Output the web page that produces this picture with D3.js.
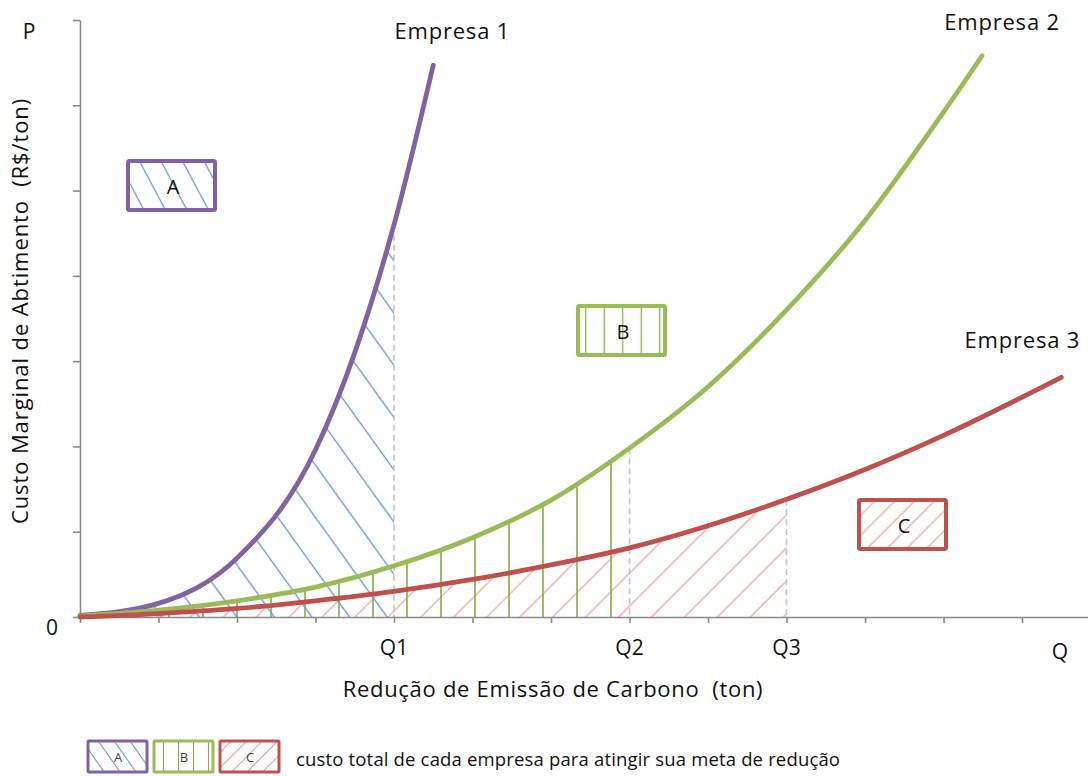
<!DOCTYPE html>
<html>
<head>
<meta charset="utf-8">
<script src="https://cdn.jsdelivr.net/npm/d3@7"></script>
<style>
  html, body { margin: 0; padding: 0; background: #fff; }
  text { font-family: "Open Sans", "Noto Sans", sans-serif; fill: #111; }
</style>
</head>
<body>
<svg id="chart" width="1088" height="776"></svg>
<script>
// curve values (x in tick units, y in tick units)
const empresa1X = [0, 1, 2, 3, 3.5, 4, 4.5];
const empresa1Y = [0.02, 0.16, 0.69, 1.96, 3.1, 4.6, 6.47];
const empresa2X = [0, 1, 2, 3, 4, 5, 6, 7, 8, 9, 10, 11, 11.49];
const empresa2Y = [0.01, 0.08, 0.19, 0.35, 0.6, 0.93, 1.37, 1.98, 2.7, 3.6, 4.65, 5.92, 6.58];
const empresa3X = [0, 1, 2, 3, 4, 5, 6, 7, 8, 9, 10, 11, 12.5];
const empresa3Y = [0, 0.04, 0.1, 0.19, 0.3, 0.44, 0.61, 0.81, 1.07, 1.38, 1.73, 2.13, 2.81];

const firmNames = ["Empresa 1", "Empresa 2", "Empresa 3"];
const areaLetters = ["A", "B", "C"];
const qLabels = ["Q1", "Q2", "Q3"];
const qValues = [4, 7, 9];
const xTicks = d3.range(0, 13);
const yTicks = d3.range(0, 8);

const xTitle = "Redução de Emissão de Carbono  (ton)";
const yTitle = "Custo Marginal de Abtimento  (R$/ton)";
const legendText = "custo total de cada empresa para atingir sua meta de redução";

const colors = ["#8064A2", "#9BBB59", "#C0504D"];
const hatchColors = ["#6A98D2", "#86AB48", "#E69C9A"];

const svg = d3.select("#chart");
const x = d3.scaleLinear().domain([0, 12.84]).range([80, 1088]);
const y = d3.scaleLinear().domain([0, 7]).range([617, 20]);

const series = [
  empresa1X.map((v, i) => [v, empresa1Y[i]]),
  empresa2X.map((v, i) => [v, empresa2Y[i]]),
  empresa3X.map((v, i) => [v, empresa3Y[i]])
];

// hatch patterns for chart areas, boxes and legend
const defs = svg.append("defs");
function hatch(id, color, angle, spacing, width, ox) {
  const p = defs.append("pattern")
    .attr("id", id)
    .attr("patternUnits", "userSpaceOnUse")
    .attr("width", spacing).attr("height", 10)
    .attr("x", ox || 0)
    .attr("patternTransform", `rotate(${angle})`);
  p.append("line")
    .attr("x1", spacing / 2).attr("x2", spacing / 2)
    .attr("y1", -1).attr("y2", 11)
    .attr("stroke", color).attr("stroke-width", width);
}
hatch("h0", hatchColors[0], -35.7, 30.5, 1.4);
hatch("h1", hatchColors[1], 0, 34, 1.6, 50);
hatch("h2", hatchColors[2], 45, 23.3, 1.2);
hatch("b0", hatchColors[0], -28, 19, 1.3);
hatch("b1", hatchColors[1], 0, 18.5, 1.3, 3);
hatch("b2", hatchColors[2], 45, 14, 1.2);
hatch("l0", hatchColors[0], -35, 13, 1.1);
hatch("l1", hatchColors[1], 0, 15, 1.1, 6);
hatch("l2", hatchColors[2], 45, 11, 1.1);

const line = d3.line().x(d => x(d[0])).y(d => y(d[1])).curve(d3.curveMonotoneX);
const area = d3.area().x(d => x(d[0])).y0(y(0)).y1(d => y(d[1])).curve(d3.curveMonotoneX);

// hatched total-cost areas, clipped at each firm's Q
series.forEach((s, i) => {
  defs.append("clipPath").attr("id", "clip" + i)
    .append("rect")
    .attr("x", x(0)).attr("y", 0)
    .attr("width", x(qValues[i]) - x(0)).attr("height", y(0));
});
[2, 1, 0].forEach(i => {
  svg.append("path")
    .attr("d", area(series[i]))
    .attr("fill", `url(#h${i})`)
    .attr("clip-path", `url(#clip${i})`);
});

// dashed Q markers, from the curve down to the axis
function valueAt(s, q) {
  const p = svg.append("path").attr("d", line(s)).attr("fill", "none").attr("stroke", "none");
  const node = p.node(), len = node.getTotalLength();
  let lo = 0, hi = len;
  for (let k = 0; k < 40; k++) {
    const mid = (lo + hi) / 2;
    if (node.getPointAtLength(mid).x < x(q)) lo = mid; else hi = mid;
  }
  const yy = node.getPointAtLength(lo).y;
  p.remove();
  return yy;
}
qValues.forEach((q, i) => {
  svg.append("line")
    .attr("x1", x(q)).attr("x2", x(q))
    .attr("y1", valueAt(series[i], q)).attr("y2", y(0))
    .attr("stroke", "#C4C4C4").attr("stroke-width", 1.6)
    .attr("stroke-dasharray", "6,4");
});

// axes
const xAxis = svg.append("g")
  .attr("transform", `translate(0,${y(0)})`)
  .call(d3.axisBottom(x).tickValues(xTicks).tickSize(6).tickSizeOuter(0).tickFormat(""));
const yAxis = svg.append("g")
  .attr("transform", `translate(${x(0)},0)`)
  .call(d3.axisLeft(y).tickValues(yTicks).tickSize(7).tickSizeOuter(0).tickFormat(""));
[xAxis, yAxis].forEach(g => {
  g.selectAll("path, line").attr("stroke", "#8A8A8A").attr("stroke-width", 1.6);
});

// curves
series.forEach((s, i) => {
  svg.append("path")
    .attr("d", line(s))
    .attr("fill", "none")
    .attr("stroke", colors[i])
    .attr("stroke-width", 4.8)
    .attr("stroke-linecap", "round");
});

// firm labels near curve ends
const labelOffsets = [[19, -26], [20, -26], [-39, -29]];
series.forEach((s, i) => {
  const end = s[s.length - 1];
  svg.append("text")
    .attr("x", x(end[0]) + labelOffsets[i][0])
    .attr("y", y(end[1]) + labelOffsets[i][1])
    .attr("text-anchor", "middle")
    .attr("font-size", 22)
    .attr("letter-spacing", 0.8)
    .text(firmNames[i]);
});

// axis letters
svg.append("text").attr("x", 29).attr("y", 39).attr("text-anchor", "middle")
  .attr("font-size", 21).text("P");
svg.append("text").attr("x", x(0) - 28).attr("y", y(0) + 18).attr("text-anchor", "middle")
  .attr("font-size", 21).text("0");
qValues.forEach((q, i) => {
  svg.append("text").attr("x", x(q)).attr("y", y(0) + 38).attr("text-anchor", "middle")
    .attr("font-size", 21).text(qLabels[i]);
});
svg.append("text").attr("x", 1060).attr("y", y(0) + 42).attr("text-anchor", "middle")
  .attr("font-size", 21).text("Q");

// axis titles
svg.append("text")
  .attr("x", 553).attr("y", 697)
  .attr("text-anchor", "middle").attr("font-size", 22)
  .attr("letter-spacing", 0.7)
  .style("white-space", "pre")
  .text(xTitle);
svg.append("text")
  .attr("transform", "translate(28,311) rotate(-90)")
  .attr("text-anchor", "middle").attr("font-size", 22)
  .attr("letter-spacing", 0.9)
  .style("white-space", "pre")
  .text(yTitle);

// boxes in the chart
const boxes = [[128, 161], [578, 306], [859, 500]];
boxes.forEach((b, i) => {
  svg.append("rect")
    .attr("x", b[0]).attr("y", b[1]).attr("width", 87).attr("height", 49)
    .attr("rx", 1.5)
    .attr("fill", `url(#b${i})`)
    .attr("stroke", colors[i]).attr("stroke-width", 4);
  svg.append("text")
    .attr("x", b[0] + 45).attr("y", b[1] + 33)
    .attr("text-anchor", "middle").attr("font-size", 20)
    .text(areaLetters[i]);
});

// legend
const legendX = [88, 154, 220];
legendX.forEach((lx, i) => {
  svg.append("rect")
    .attr("x", lx).attr("y", 741).attr("width", 59).attr("height", 31)
    .attr("rx", 1)
    .attr("fill", `url(#l${i})`)
    .attr("stroke", colors[i]).attr("stroke-width", 3);
  svg.append("text")
    .attr("x", lx + 30).attr("y", 762)
    .attr("text-anchor", "middle").attr("font-size", 13)
    .style("fill", "#444")
    .text(areaLetters[i]);
});
svg.append("text")
  .attr("x", 296).attr("y", 766)
  .attr("font-size", 18.5)
  .attr("textLength", 544)
  .attr("lengthAdjust", "spacing")
  .text(legendText);
</script>
</body>
</html>
